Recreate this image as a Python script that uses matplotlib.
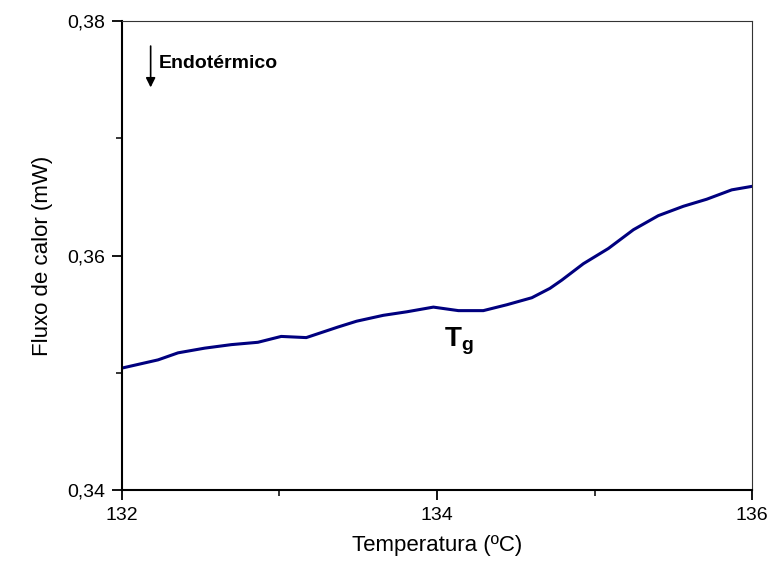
import matplotlib
matplotlib.use('Agg')
import matplotlib.pyplot as plt
from matplotlib.ticker import MultipleLocator, FuncFormatter

plt.rcParams['font.family'] = ['Liberation Sans', 'DejaVu Sans']
plt.rcParams['mathtext.fontset'] = 'custom'
plt.rcParams['mathtext.bf'] = 'Liberation Sans:bold'
plt.rcParams['mathtext.rm'] = 'Liberation Sans'

# temperatura (ºC) e fluxo de calor (mW)
temperatura = [132.000, 132.229, 132.356, 132.525, 132.694, 132.863, 133.011,
               133.170, 133.371, 133.490, 133.659, 133.808, 133.977, 134.136,
               134.294, 134.443, 134.602, 134.717, 134.792, 134.929, 135.088,
               135.247, 135.405, 135.564, 135.712, 135.871, 136.000]
fluxo = [0.3504, 0.3511, 0.3517, 0.3521, 0.3524, 0.3526, 0.3531,
         0.3530, 0.3539, 0.3544, 0.3549, 0.3552, 0.3556, 0.3553,
         0.3553, 0.3558, 0.3564, 0.3572, 0.3579, 0.3593, 0.3606,
         0.3622, 0.3634, 0.3642, 0.3648, 0.3656, 0.3659]

fig = plt.figure(figsize=(7.71, 5.65), dpi=100)
ax = fig.add_axes([0.1582, 0.1327, 0.8172, 0.8301])
ax.plot(temperatura, fluxo, color='#00007f', lw=2.2)

ax.set_xlim(132, 136)
ax.set_ylim(0.34, 0.38)
ax.xaxis.set_major_locator(MultipleLocator(2))
ax.xaxis.set_minor_locator(MultipleLocator(1))
ax.yaxis.set_major_locator(MultipleLocator(0.02))
ax.yaxis.set_minor_locator(MultipleLocator(0.01))
ax.yaxis.set_major_formatter(FuncFormatter(lambda v, p: '{:.2f}'.format(v).replace('.', ',')))

for s in ['left', 'bottom']:
    ax.spines[s].set_linewidth(1.5)
for s in ['top', 'right']:
    ax.spines[s].set_linewidth(0.8)
    ax.spines[s].set_color('#333333')
ax.tick_params(which='major', direction='out', length=7, width=1.3, labelsize=14,
               top=False, right=False, pad=5)
ax.tick_params(which='minor', direction='out', length=4, width=1.1, top=False, right=False)

ax.set_xlabel('Temperatura (ºC)', fontsize=16, labelpad=8)
ax.set_ylabel('Fluxo de calor (mW)', fontsize=16, labelpad=10)

# seta endotermico
ax.annotate('', xy=(132.182, 0.3741), xytext=(132.182, 0.3781),
            arrowprops=dict(arrowstyle='-|>', color='black', lw=1.2, mutation_scale=14))
ax.text(132.235, 0.3764, 'Endotérmico', fontsize=14, fontweight='bold', va='center')
ax.text(134.14, 0.3522, r'$\mathbf{T_g}$', fontsize=20, ha='center', va='baseline')

plt.savefig('out.png', dpi=100)
